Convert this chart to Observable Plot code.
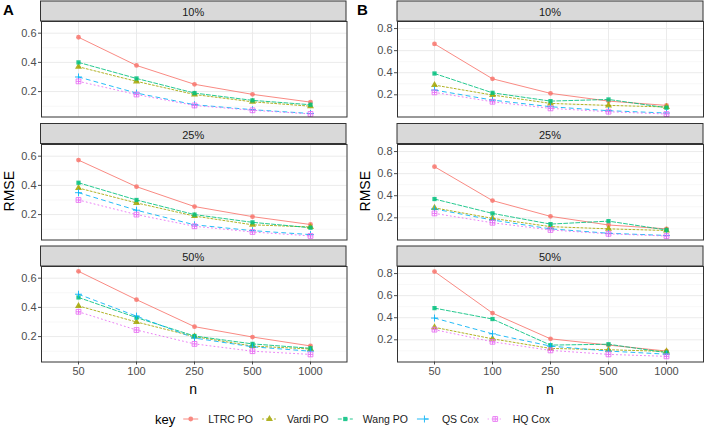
<!DOCTYPE html>
<html><head><meta charset="utf-8">
<script src="https://cdn.jsdelivr.net/npm/d3@7"></script>
<script src="https://cdn.jsdelivr.net/npm/@observablehq/plot@0.6"></script>
<style>
html,body{margin:0;padding:0;background:#fff;}
#root{position:relative;width:705px;height:428px;font-family:"Liberation Sans",Arial,sans-serif;overflow:hidden;background:#fff;}
#root > svg{position:absolute;overflow:visible;}
</style></head><body><div id="root"></div>
<script>
// ---- data ----
const nLabels = ["50", "100", "250", "500", "1000"];
const keys = ["LTRC PO", "Vardi PO", "Wang PO", "QS Cox", "HQ Cox"];
const censoring = ["10%", "25%", "50%"];
const panelLabels = ["A", "B"];
// rows follow `keys`, columns follow `nLabels`
const rmseA10 = [[0.572,0.379,0.250,0.181,0.128],[0.370,0.270,0.180,0.130,0.100],[0.400,0.290,0.190,0.140,0.110],[0.300,0.190,0.110,0.076,0.050],[0.270,0.180,0.105,0.072,0.047]];
const rmseA25 = [[0.573,0.391,0.255,0.186,0.132],[0.382,0.280,0.190,0.130,0.115],[0.418,0.300,0.200,0.147,0.110],[0.350,0.230,0.130,0.090,0.063],[0.300,0.200,0.120,0.081,0.054]];
const rmseA50 = [[0.647,0.453,0.268,0.197,0.136],[0.410,0.300,0.200,0.135,0.115],[0.468,0.330,0.204,0.150,0.120],[0.490,0.340,0.190,0.130,0.100],[0.370,0.245,0.150,0.100,0.078]];
const rmseB10 = [[0.661,0.345,0.213,0.143,0.104],[0.288,0.198,0.122,0.104,0.090],[0.393,0.218,0.143,0.158,0.083],[0.243,0.152,0.092,0.056,0.035],[0.222,0.137,0.077,0.047,0.026]];
const rmseB25 = [[0.663,0.356,0.213,0.135,0.100],[0.290,0.195,0.120,0.100,0.085],[0.370,0.240,0.143,0.170,0.090],[0.280,0.180,0.100,0.060,0.040],[0.240,0.155,0.090,0.055,0.035]];
const rmseB50 = [[0.818,0.442,0.209,0.152,0.098],[0.313,0.209,0.122,0.110,0.095],[0.487,0.388,0.152,0.160,0.084],[0.397,0.254,0.143,0.098,0.070],[0.292,0.182,0.104,0.068,0.050]];
const yTicksA = [0.2, 0.4, 0.6];
const yMinorA = [0.1, 0.3, 0.5];
const yTicksB = [0.2, 0.4, 0.6, 0.8];
const yMinorB = [0.1, 0.3, 0.5, 0.7];

// ---- styles ----
const colors = ["#F8766D", "#A3A500", "#00BF7D", "#00B0F6", "#E76BF3"];
const dashes = [null, "2,2", "4,2", "4,4", "1,3"];
const squarePlus = {
  draw(ctx, size) {
    const s = Math.sqrt(size) / 2;
    ctx.moveTo(-s, -s); ctx.lineTo(s, -s); ctx.lineTo(s, s); ctx.lineTo(-s, s); ctx.closePath();
    ctx.moveTo(-s, 0); ctx.lineTo(s, 0); ctx.moveTo(0, -s); ctx.lineTo(0, s);
  }
};
const symbols = ["circle", "triangle", "square", "plus", squarePlus];
const filled = [true, true, true, false, false];
const symR = [2.4, 2.6, 2.4, 2.4, 2.7];
const markOpacity = 0.85;

const panels = [
  {x0: 40.5, pw: 305.5, domain: [0.026, 0.680], ticks: yTicksA, minor: yMinorA, data: [rmseA10, rmseA25, rmseA50]},
  {x0: 397, pw: 306, domain: [-0.001, 0.864], ticks: yTicksB, minor: yMinorB, data: [rmseB10, rmseB25, rmseB50]}
];
const rowTop = [1, 123.5, 246];
const stripH = 20, ph = 95.5;

const root = document.getElementById("root");

function makeFacet(p, arr, showX) {
  const rows = keys.flatMap((k, i) => nLabels.map((n, j) => ({key: k, n, rmse: arr[i][j]})));
  const ml = 40, mr = 1, mt = 1, mb = showX ? 20 : 1;
  const marks = [
    Plot.gridY(p.minor, {stroke: "#F2F2F2", strokeOpacity: 1, strokeWidth: 0.6}),
    Plot.gridY(p.ticks, {stroke: "#EBEBEB", strokeOpacity: 1, strokeWidth: 1}),
    Plot.gridX(nLabels, {stroke: "#EBEBEB", strokeOpacity: 1, strokeWidth: 1}),
    Plot.axisY(p.ticks, {tickSize: 3, tickPadding: 2, tickFormat: d3.format(".1f"), fontSize: 11, label: null})
  ];
  if (showX) marks.push(Plot.axisX(nLabels, {tickSize: 3, tickPadding: 2, fontSize: 11, label: null}));
  keys.forEach((k, i) => {
    const d = rows.filter(r => r.key === k);
    const o = {x: "n", y: "rmse", stroke: colors[i], strokeWidth: 1, strokeOpacity: markOpacity};
    if (dashes[i]) o.strokeDasharray = dashes[i];
    marks.push(Plot.line(d, o));
  });
  keys.forEach((k, i) => {
    const d = rows.filter(r => r.key === k);
    marks.push(Plot.dot(d, {
      x: "n", y: "rmse", symbol: symbols[i], r: symR[i],
      fill: filled[i] ? colors[i] : "none", fillOpacity: markOpacity,
      stroke: filled[i] ? "none" : colors[i], strokeOpacity: markOpacity, strokeWidth: 1
    }));
  });
  marks.push(Plot.frame({stroke: "#333333", strokeWidth: 1}));
  const xOpt = {type: "point", domain: nLabels, padding: 0.6};
  if (!showX) xOpt.axis = null;
  const svg = Plot.plot({
    width: ml + p.pw + mr, height: mt + ph + mb,
    marginLeft: ml, marginRight: mr, marginTop: mt, marginBottom: mb,
    x: xOpt,
    y: {domain: p.domain},
    style: {background: "transparent", color: "#4D4D4D", fontFamily: "Liberation Sans, Arial, sans-serif", overflow: "visible"},
    marks
  });
  return {svg, ml, mt};
}

panels.forEach((p, pi) => {
  p.data.forEach((arr, ri) => {
    const {svg, ml, mt} = makeFacet(p, arr, ri === 2);
    svg.style.left = (p.x0 - ml) + "px";
    svg.style.top = (rowTop[ri] + stripH - mt) + "px";
    root.appendChild(svg);
  });
});

// ---- overlay: strips, titles, legend ----
const ov = d3.select(root).append("svg")
  .attr("width", 705).attr("height", 428)
  .style("left", "0px").style("top", "0px")
  .style("font-family", "Liberation Sans, Arial, sans-serif");

panels.forEach((p, pi) => {
  censoring.forEach((c, ri) => {
    ov.append("rect").attr("x", p.x0).attr("y", rowTop[ri])
      .attr("width", p.pw).attr("height", stripH)
      .attr("fill", "#D9D9D9").attr("stroke", "#333333").attr("stroke-width", 1);
    ov.append("text").attr("x", p.x0 + p.pw / 2).attr("y", rowTop[ri] + stripH / 2 + 1)
      .attr("text-anchor", "middle").attr("dominant-baseline", "central")
      .attr("font-size", 11).attr("fill", "#1A1A1A").text(c);
  });
  const cx = p.x0 + p.pw / 2;
  ov.append("text").attr("x", cx).attr("y", 389).attr("text-anchor", "middle")
    .attr("dominant-baseline", "central").attr("font-size", 14).attr("fill", "#000").text("n");
  const ry = (rowTop[0] + stripH + rowTop[2] + stripH + ph) / 2;
  const rx = pi === 0 ? 9 : 365;
  ov.append("text").attr("transform", `translate(${rx},${ry}) rotate(-90)`)
    .attr("text-anchor", "middle").attr("dominant-baseline", "central")
    .attr("font-size", 14).attr("fill", "#000").text("RMSE");
  ov.append("text").attr("x", pi === 0 ? 3 : 357).attr("y", 14.5)
    .attr("font-size", 15).attr("font-weight", "bold").attr("fill", "#000").text(panelLabels[pi]);
});

// legend
const ly = 419;
let lx = 155;
const kt = ov.append("text").attr("x", lx).attr("y", ly).attr("dominant-baseline", "central")
  .attr("font-size", 13).attr("fill", "#000").text("key");
lx += kt.node().getComputedTextLength() + 7;
keys.forEach((k, i) => {
  const g = ov.append("g").attr("opacity", markOpacity);
  const line = g.append("line").attr("x1", lx + 1).attr("x2", lx + 16).attr("y1", ly).attr("y2", ly)
    .attr("stroke", colors[i]).attr("stroke-width", 1);
  if (dashes[i]) line.attr("stroke-dasharray", dashes[i]);
  const sym = d3.symbol().type(typeof symbols[i] === "string"
    ? {circle: d3.symbolCircle, triangle: d3.symbolTriangle, square: d3.symbolSquare, plus: d3.symbolPlus}[symbols[i]]
    : symbols[i]).size(Math.PI * symR[i] * symR[i]);
  g.append("path").attr("d", sym()).attr("transform", `translate(${lx + 8.5},${ly})`)
    .attr("fill", filled[i] ? colors[i] : "none").attr("stroke", filled[i] ? "none" : colors[i]).attr("stroke-width", 1);
  const t = ov.append("text").attr("x", lx + 26).attr("y", ly).attr("dominant-baseline", "central")
    .attr("font-size", 10.5).attr("fill", "#1A1A1A").text(k);
  lx += 26 + t.node().getComputedTextLength() + 8;
});
</script></body></html>
